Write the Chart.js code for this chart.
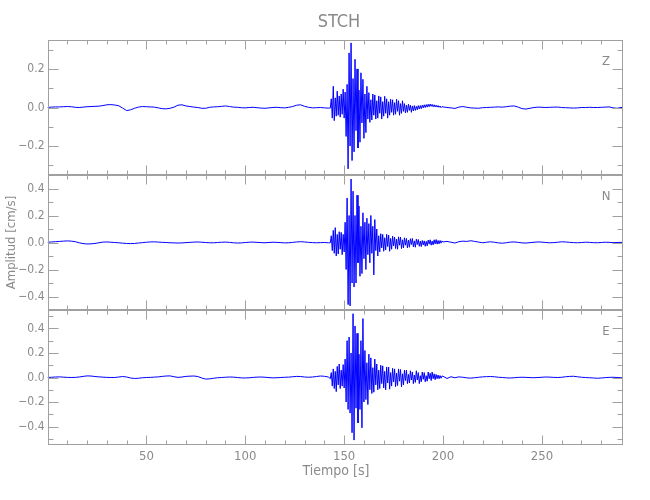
<!DOCTYPE html>
<html>
<head>
<meta charset="utf-8">
<script src="https://cdn.jsdelivr.net/npm/chart.js@4"></script>
<style>
  html, body { margin: 0; padding: 0; background: #fff; }
</style>
</head>
<body>
<canvas id="myChart" width="650" height="500"></canvas>
<script>
// station and components
const station = 'STCH';
const components = ['Z', 'N', 'E'];

// sampling of the hand-read traces (seconds)
const PRE_START = 0, PRE_STEP = 2;      // quiet part before the arrival
const EV_START = 143, EV_STEP = 0.5;    // strong motion
const TAIL_START = 200, TAIL_STEP = 2;  // coda

// Z component [cm/s]
const zPre = [0.000,0.002,0.003,0.003,0.004,0.005,0.004,0.001,0.000,0.002,0.004,0.005,0.006,0.007,0.010,0.014,0.015,0.013,0.009,-0.003,
  -0.016,-0.012,-0.004,0.002,0.005,0.004,0.003,0.002,-0.002,-0.006,-0.007,-0.004,0.002,0.012,0.014,0.008,0.005,0.002,0.000,-0.004,
  -0.004,0.001,0.003,0.004,0.006,0.008,0.005,0.002,0.001,-0.001,-0.002,0.000,0.001,-0.001,-0.003,-0.004,-0.002,0.000,0.001,-0.001,
  -0.002,0.001,0.005,0.012,0.014,0.006,0.001,-0.002,-0.001,0.000,-0.002,-0.003];
const zEvent = [-0.003,0.045,-0.055,0.110,-0.068,0.050,-0.045,0.085,-0.040,0.060,-0.050,0.070,-0.035,0.095,-0.055,0.080,
  -0.150,0.120,-0.318,0.283,-0.200,0.335,-0.275,0.150,-0.230,0.250,-0.120,0.200,-0.210,0.090,-0.180,0.180,-0.080,0.146,
  -0.160,0.070,-0.130,0.110,-0.060,0.077,-0.077,0.040,-0.065,0.070,-0.040,0.065,-0.060,0.035,-0.055,0.060,-0.030,0.055,
  -0.060,0.030,-0.045,0.058,-0.030,0.045,-0.055,0.030,-0.040,0.043,-0.025,0.040,-0.040,0.025,-0.035,0.043,-0.020,0.035,
  -0.040,0.020,-0.030,0.035,-0.020,0.020,-0.028,0.012,-0.025,0.017,-0.015,0.012,-0.025,0.008,-0.018,0.010,-0.015,0.006,
  -0.012,0.010,-0.008,0.010,-0.006,0.012,-0.002,0.014,0.000,0.015,0.002,0.017,0.004,0.018,0.006,0.016,0.004,0.014,
  0.003,0.012,0.002,0.010,0.001,0.008,-0.001,0.005];
const zTail = [0.003,0.000,-0.002,-0.005,0.002,0.005,0.001,-0.002,-0.003,-0.004,-0.001,0.000,0.001,0.002,0.003,0.002,
  0.004,0.007,0.008,0.002,-0.006,-0.008,-0.004,0.000,0.002,0.001,0.000,0.001,0.002,0.002,0.000,-0.001,-0.002,-0.003,
  -0.002,0.000,0.000,0.001,0.000,0.000,0.001,0.002,0.003,-0.002,-0.004,0.000,0.000];

// N component [cm/s]
const nPre = [0.002,0.004,0.006,0.008,0.010,0.012,0.010,0.006,-0.002,-0.008,-0.011,-0.010,-0.007,-0.002,0.003,0.004,0.002,0.000,
  -0.002,-0.005,-0.007,-0.008,-0.007,-0.004,-0.001,0.002,0.004,0.005,0.003,0.001,0.000,-0.002,-0.003,-0.004,-0.003,-0.001,
  0.001,0.003,0.004,0.002,0.000,-0.002,-0.002,0.000,0.002,0.003,0.001,-0.002,-0.004,-0.003,0.000,0.002,0.003,0.001,-0.001,
  -0.002,0.000,0.002,0.001,-0.001,-0.003,-0.002,0.001,0.004,0.006,0.004,0.001,-0.001,-0.002,-0.001,0.000,-0.002];
const nEvent = [-0.002,0.050,-0.060,0.090,-0.080,0.110,-0.100,0.060,-0.085,0.080,-0.050,0.075,-0.090,0.060,-0.070,0.150,
  -0.200,0.330,-0.460,0.200,-0.470,0.470,-0.300,0.380,-0.330,0.200,-0.300,0.350,-0.150,0.270,-0.250,0.120,-0.230,0.220,
  -0.120,0.150,-0.200,0.180,-0.090,0.140,-0.150,0.200,-0.080,0.120,-0.240,0.170,-0.060,0.100,-0.100,0.050,-0.070,0.065,
  -0.040,0.060,-0.065,0.035,-0.055,0.060,-0.030,0.055,-0.065,0.030,-0.050,0.047,-0.025,0.040,-0.045,0.025,-0.050,0.042,
  -0.020,0.040,-0.045,0.020,-0.040,0.035,-0.020,0.030,-0.040,0.018,-0.035,0.028,-0.015,0.030,-0.032,0.012,-0.035,0.025,
  -0.015,0.022,-0.028,0.010,-0.030,0.015,-0.018,0.012,-0.028,0.008,-0.025,0.018,-0.012,0.020,-0.020,0.010,-0.018,0.020,
  -0.010,0.022,-0.012,0.015,-0.010,0.015,-0.005,0.012];
const nTail = [0.004,0.008,0.002,-0.004,0.006,0.010,0.008,0.013,0.008,0.003,-0.002,0.002,0.005,0.002,-0.003,-0.005,
  -0.002,0.003,0.004,0.001,-0.003,-0.004,-0.001,0.002,0.004,0.003,0.000,-0.002,-0.001,0.002,0.005,0.004,0.001,-0.001,
  -0.002,0.000,0.002,0.001,-0.001,-0.002,0.000,0.002,0.001,-0.001,0.000,0.001,0.000];

// E component [cm/s]
const ePre = [0.000,0.002,0.004,0.005,0.003,0.001,0.000,0.001,0.004,0.009,0.013,0.012,0.008,0.005,0.003,0.001,0.000,0.000,
  0.004,0.008,0.004,-0.004,-0.008,-0.006,-0.002,0.000,0.001,0.003,0.005,0.009,0.012,0.013,0.006,0.001,0.004,0.009,0.011,
  0.012,0.008,-0.004,-0.013,-0.011,-0.006,-0.002,0.000,0.002,0.004,0.003,0.000,-0.003,-0.004,-0.002,0.001,0.003,0.004,
  0.002,-0.001,-0.003,-0.002,0.000,0.002,0.003,0.006,0.009,0.008,0.004,0.002,0.004,0.008,0.012,0.010,0.004];
const eEvent = [-0.010,0.040,-0.070,0.070,-0.090,0.050,-0.115,0.090,-0.060,0.110,-0.090,0.060,-0.070,0.105,-0.085,0.150,
  -0.200,0.300,-0.260,0.330,-0.290,0.200,-0.450,0.520,-0.510,0.420,-0.250,0.360,-0.370,0.190,-0.260,0.300,-0.410,0.480,
  -0.200,0.220,-0.180,0.120,-0.220,0.190,-0.100,0.160,-0.130,0.080,-0.120,0.150,-0.060,0.110,-0.100,0.060,-0.090,0.100,
  -0.050,0.095,-0.085,0.050,-0.100,0.086,-0.045,0.085,-0.095,0.040,-0.070,0.075,-0.035,0.070,-0.075,0.035,-0.065,0.070,
  -0.030,0.065,-0.075,0.030,-0.060,0.060,-0.025,0.060,-0.050,0.025,-0.045,0.055,-0.020,0.045,-0.050,0.020,-0.040,0.055,
  -0.020,0.040,-0.050,0.015,-0.035,0.045,-0.015,0.040,-0.035,0.015,-0.030,0.045,-0.010,0.035,-0.025,0.045,-0.010,0.030,
  -0.018,0.025,-0.010,0.020,-0.010,0.016,-0.006,0.012];
const eTail = [0.010,-0.008,0.006,-0.002,0.005,0.002,-0.003,-0.005,-0.002,0.002,0.005,0.007,0.008,0.006,0.002,0.000,
  -0.003,-0.004,-0.002,0.001,0.002,0.001,-0.001,-0.002,0.000,0.002,0.004,0.003,0.001,0.000,0.002,0.006,0.009,0.010,
  0.006,0.002,0.000,-0.002,-0.004,-0.006,-0.004,-0.001,0.001,0.002,0.000,-0.002,0.000];

// axis ranges and tick values
const timeMax = 291;
const zRange = 0.35, nRange = 0.5, eRange = 0.55;
const zTicks = [-0.3, -0.2, -0.1, 0, 0.1, 0.2, 0.3];
const nTicks = [-0.4, -0.3, -0.2, -0.1, 0, 0.1, 0.2, 0.3, 0.4];
const eTicks = [-0.5, -0.4, -0.3, -0.2, -0.1, 0, 0.1, 0.2, 0.3, 0.4, 0.5];

function trace(pre, ev, tail) {
  const pts = [];
  pre.forEach((v, i) => pts.push({x: PRE_START + i * PRE_STEP, y: v}));
  ev.forEach((v, i) => pts.push({x: EV_START + i * EV_STEP, y: v}));
  tail.forEach((v, i) => pts.push({x: TAIL_START + i * TAIL_STEP, y: v}));
  return pts;
}

const FONT = "'Liberation Sans Narrow', 'DejaVu Sans Condensed', 'Liberation Sans', sans-serif";
const GREY = '#8a8a8a';
const FRAME = '#a0a0a0';

function yLabel(v) {
  const k = Math.round(v / 0.2);
  if (Math.abs(v / 0.2 - k) > 1e-6) return '';
  const s = Math.abs(k * 0.2).toFixed(1);
  return k < 0 ? '\u2212' + s : s;
}

function yAxis(range, vals, w) {
  return {
    type: 'linear',
    position: 'left',
    stack: 'traces',
    stackWeight: 1,
    weight: w,
    min: -range,
    max: range,
    grid: { display: false, drawTicks: false },
    border: { display: false },
    afterBuildTicks: (s) => { s.ticks = vals.map(v => ({ value: v })); },
    ticks: {
      autoSkip: false,
      padding: 3,
      color: GREY,
      font: { family: FONT, size: 12 },
      callback: yLabel
    },
    afterFit: (s) => { s.width = 40; }
  };
}

const frame = {
  id: 'frame',
  afterDatasetsDraw(chart) {
    const { ctx, chartArea: a, scales } = chart;
    const x = scales.x;
    const l = Math.round(a.left) + 0.5, r = Math.round(a.right) - 0.5;
    ctx.save();
    ctx.strokeStyle = FRAME;
    ctx.lineWidth = 1;
    ['yZ', 'yN', 'yE'].forEach((id, n) => {
      const y = scales[id];
      const t = Math.round(y.top) + 0.5, b = Math.round(y.bottom) - 0.5;
      ctx.strokeRect(l, t, r - l, b - t);
      ctx.beginPath();
      x.ticks.forEach(tk => {
        const v = tk.value;
        if (v <= x.min || v >= x.max) return;
        const px = Math.round(x.getPixelForValue(v)) + 0.5;
        const len = v % 50 === 0 ? 9 : 4;
        ctx.moveTo(px, t); ctx.lineTo(px, t + len);
        ctx.moveTo(px, b); ctx.lineTo(px, b - len);
      });
      y.ticks.forEach(tk => {
        const v = tk.value;
        const py = Math.round(y.getPixelForValue(v)) + 0.5;
        const len = yLabel(v) !== '' ? 10 : 5;
        ctx.moveTo(l, py); ctx.lineTo(l + len, py);
        ctx.moveTo(r, py); ctx.lineTo(r - len, py);
      });
      ctx.stroke();
      ctx.fillStyle = GREY;
      ctx.font = '13px ' + FONT;
      ctx.textAlign = 'center';
      ctx.textBaseline = 'middle';
      ctx.fillText(components[n], a.right - 17, y.top + 22);
    });

    ctx.fillStyle = GREY;
    ctx.textAlign = 'center';
    ctx.textBaseline = 'middle';
    ctx.font = '18px ' + FONT;
    ctx.fillText(station, 339, 22);
    ctx.font = '14px ' + FONT;
    ctx.fillText('Tiempo [s]', 336, 471);
    ctx.font = '13px ' + FONT;
    ctx.translate(12, scales.yN.top + (scales.yN.bottom - scales.yN.top) / 2);
    ctx.rotate(-Math.PI / 2);
    ctx.fillText('Amplitud [cm/s]', 0, 0);
    ctx.restore();
  }
};

const ds = (id, pts) => ({
  label: id,
  yAxisID: id,
  data: pts,
  borderColor: '#0000ff',
  borderWidth: 1,
  pointRadius: 0,
  tension: 0,
  fill: false
});

const ctx = document.getElementById('myChart').getContext('2d');
new Chart(ctx, {
  type: 'line',
  data: {
    datasets: [
      ds('yZ', trace(zPre, zEvent, zTail)),
      ds('yN', trace(nPre, nEvent, nTail)),
      ds('yE', trace(ePre, eEvent, eTail))
    ]
  },
  options: {
    responsive: false,
    animation: false,
    devicePixelRatio: 1,
    layout: { padding: { left: 7.5, right: 27, top: 40, bottom: 0 } },
    plugins: { legend: { display: false }, tooltip: { enabled: false }, title: { display: false } },
    scales: {
      x: {
        type: 'linear',
        min: 0,
        max: timeMax,
        grid: { display: false, drawTicks: false },
        border: { display: false },
        ticks: {
          stepSize: 10,
          autoSkip: false,
          maxRotation: 0,
          padding: 4,
          color: GREY,
          font: { family: FONT, size: 13 },
          callback: (v) => (v > 0 && v % 50 === 0) ? String(v) : ''
        },
        afterFit: (s) => { s.height = 55; }
      },
      yE: yAxis(eRange, eTicks, 1),
      yN: yAxis(nRange, nTicks, 2),
      yZ: yAxis(zRange, zTicks, 3)
    }
  },
  plugins: [frame]
});
</script>
</body>
</html>
